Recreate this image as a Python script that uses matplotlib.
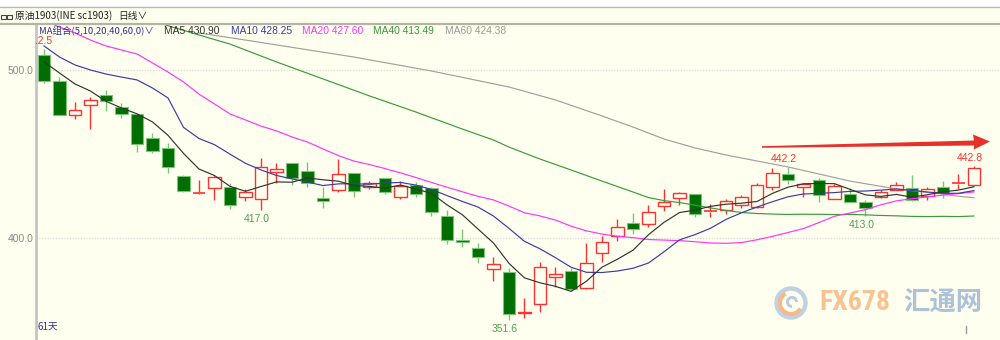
import matplotlib
matplotlib.use('Agg')
import matplotlib.pyplot as plt
import numpy as np
from matplotlib.patches import Rectangle, Polygon, Circle, Arc
from matplotlib.transforms import IdentityTransform

# ---------------- data ----------------
opens = [508.9, 493.5, 473.1, 479.0, 485.1, 477.8, 474.0, 459.4, 453.8, 437.2,
         427.1, 429.7, 430.7, 424.7, 423.2, 439.6, 444.6, 440.0, 423.8, 428.7,
         438.6, 430.7, 435.7, 424.4, 431.7, 429.7, 413.4, 399.0, 394.4, 381.8,
         380.2, 355.4, 360.9, 377.2, 380.6, 370.3, 391.1, 401.4, 409.3, 408.5,
         419.2, 423.8, 426.3, 415.8, 416.8, 419.8, 418.8, 430.7, 438.2, 430.7,
         434.6, 423.4, 426.1, 421.7, 424.7, 428.7, 429.7, 425.1, 430.7, 432.4,
         431.7]
highs = [512.5, 495.7, 481.0, 483.8, 488.1, 480.2, 474.5, 462.4, 456.8, 437.5,
         434.6, 437.0, 432.7, 429.1, 447.5, 444.6, 445.0, 445.2, 430.7, 447.1,
         438.8, 434.2, 436.0, 434.2, 433.6, 430.7, 416.8, 405.3, 397.4, 389.1,
         382.2, 364.4, 385.7, 382.8, 382.2, 397.4, 401.4, 411.3, 414.9, 419.8,
         429.1, 427.3, 426.5, 420.2, 423.2, 425.7, 433.0, 441.6, 442.2, 432.7,
         435.7, 432.1, 430.1, 422.8, 428.7, 433.6, 437.6, 430.7, 434.2, 438.2,
         442.8]
lows = [492.5, 473.0, 470.7, 464.8, 475.8, 471.3, 451.1, 450.5, 439.0, 427.8,
        426.3, 422.8, 417.5, 422.0, 417.0, 433.0, 431.7, 430.7, 418.2, 427.7,
        424.7, 429.3, 426.3, 423.2, 424.4, 413.4, 396.6, 395.0, 385.5, 374.8,
        351.6, 352.5, 356.4, 371.2, 368.7, 369.9, 385.7, 398.4, 402.6, 406.9,
        416.4, 419.8, 412.8, 412.8, 414.3, 417.8, 417.8, 428.7, 432.1, 424.7,
        421.4, 423.2, 421.5, 413.0, 423.8, 428.5, 422.3, 422.8, 423.8, 429.1,
        431.5]
closes = [493.6, 473.3, 476.2, 482.2, 481.6, 473.9, 455.9, 452.1, 442.4, 428.1,
          427.3, 436.6, 420.0, 427.7, 442.2, 441.0, 435.7, 432.7, 422.2, 438.0,
          428.3, 433.0, 427.7, 431.1, 426.3, 415.4, 399.0, 397.8, 389.1, 384.6,
          355.0, 356.0, 383.1, 378.6, 369.7, 385.1, 397.6, 406.9, 405.3, 415.8,
          421.7, 426.7, 414.4, 416.2, 422.3, 424.7, 431.7, 438.6, 434.6, 432.3,
          425.7, 431.1, 421.7, 418.2, 427.7, 431.7, 422.8, 429.1, 426.7, 432.9,
          441.6]

ma5_head = [504.9, 498.2, 491.7, 487.5]
ma10_head = [514.3, 507.7, 503.0, 500.0, 497.6, 495.8, 494.1, 489.3, 483.4]
ma20_head_idx = [0, 1, 2, 3, 4, 5, 6, 7, 8, 9, 10, 11, 12, 13, 14, 15, 16, 17, 18]
ma20_head = [529.7, 525.5, 522.0, 517.8, 514.3, 511.9, 509.5, 504.2, 498.8, 492.9,
             485.7, 479.8, 473.9, 470.3, 466.7, 463.8, 460.2, 457.2, 453.1]
ma40_head_idx = [7, 10, 12, 15, 18, 21, 24, 27, 29, 30, 32, 34, 36, 38]
ma40_head = [529.1, 520.8, 515.4, 504.8, 494.7, 484.6, 475.0, 464.9, 458.4, 454.2,
             447.1, 440.6, 434.0, 427.5]
ma60_head_idx = [10, 13, 15, 20, 25, 30, 33, 36, 38, 40, 42, 44, 48, 52, 55, 58]
ma60_head = [522.0, 517.8, 514.9, 507.7, 499.4, 489.9, 482.2, 472.7, 466.1, 459.0,
             453.7, 449.5, 442.4, 434.0, 429.3, 426.3]

yticks = [400, 500]
ytick_labels = ['400.0', '500.0']
legend_items = [('MA5 430.90', '#333333', 164), ('MA10 428.25', '#3a3aa8', 231),
                ('MA20 427.60', '#ff33ff', 302), ('MA40 413.49', '#3a9a3a', 373),
                ('MA60 424.38', '#9a9a9a', 445)]
high_labels = [(0, '512.5'), (48, '442.2'), (60, '442.8')]
low_labels = [(14, '417.0'), (30, '351.6'), (53, '413.0')]

# ---------------- style ----------------
BG = '#fffff0'
UP = '#ff3030'
DOWN_FACE = '#006e00'
DOWN_EDGE = '#7cc47c'
FONT = ['Liberation Sans', 'DejaVu Sans']
CJK = ['Noto Sans CJK SC', 'DejaVu Sans']

W, H = 1000, 340
fig = plt.figure(figsize=(W / 100, H / 100), dpi=100, facecolor=BG)
ax = fig.add_axes([36 / W, 0, (W - 36) / W, (H - 24) / H])
ax.set_facecolor(BG)
ax.set_xlim(-0.516, 61.68)
ax.set_ylim(339.57, 527.33)

for s in ['top', 'right', 'bottom']:
    ax.spines[s].set_visible(False)
ax.spines['left'].set_color('#c4c4c4')
ax.spines['left'].set_linewidth(2)
ax.set_xticks([])
ax.set_yticks(yticks)
ax.set_yticklabels(ytick_labels, fontsize=7.5, color='#8a8a8a', family=FONT)
ax.tick_params(axis='y', length=0, pad=2)
ax.grid(axis='y', color='#d4d4d4', linestyle=(0, (1, 1.5)), linewidth=0.8)

n = len(closes)
xs = np.arange(n)
bw = 0.82
for i in range(n):
    o, h, l, c = opens[i], highs[i], lows[i], closes[i]
    up = c >= o
    top, bot = max(o, c), min(o, c)
    if up:
        ax.vlines(i, l, bot, color=UP, lw=1, zorder=2)
        ax.vlines(i, top, h, color=UP, lw=1, zorder=2)
        if top - bot < 0.6:
            ax.hlines((top + bot) / 2, i - bw / 2, i + bw / 2, color=UP, lw=1.2, zorder=3)
        else:
            ax.add_patch(Rectangle((i - bw / 2, bot), bw, top - bot, facecolor=BG,
                                   edgecolor=UP, lw=1, zorder=3))
    else:
        ax.vlines(i, l, h, color=DOWN_EDGE, lw=1, zorder=2)
        hh = max(top - bot, 0.8)
        ax.add_patch(Rectangle((i - bw / 2, top - hh), bw, hh, facecolor=DOWN_FACE,
                               edgecolor=DOWN_EDGE, lw=0.8, zorder=3))


def rolling(vals, w):
    return [float(np.mean(vals[k - w + 1:k + 1])) for k in range(w - 1, len(vals))]


ma5 = ma5_head + rolling(closes, 5)
ma10 = ma10_head + rolling(closes, 10)
ma20_x = ma20_head_idx + list(range(19, n))
ma20_y = ma20_head + rolling(closes, 20)
ma40_x = ma40_head_idx + list(range(39, n))
ma40_y = ma40_head + rolling(closes, 40)
ma60_x = ma60_head_idx + list(range(59, n))
ma60_y = ma60_head + rolling(closes, 60)

lw = 0.85
ax.plot(ma60_x, ma60_y, color='#a0a0a0', lw=lw, zorder=4)
ax.plot(ma40_x, ma40_y, color='#3a9a3a', lw=lw, zorder=4)
ax.plot(ma20_x, ma20_y, color='#ff33ff', lw=lw, zorder=4)
ax.plot(xs, ma10, color='#3a3aa8', lw=lw, zorder=5)
ax.plot(xs, ma5, color='#333333', lw=lw, zorder=6)

for i, t in high_labels:
    ax.annotate(t, xy=(i, highs[i]), xytext=(-3, 6), textcoords='offset points',
                ha='center', va='center', fontsize=7.5, color='#ff3030',
                family=FONT, zorder=7, annotation_clip=False, clip_on=True)
for i, t in low_labels:
    ax.annotate(t, xy=(i, lows[i]), xytext=(-3, -6.5), textcoords='offset points',
                ha='center', va='center', fontsize=7.5, color='#4f9f4f',
                family=FONT, zorder=7, annotation_clip=False)

# ---------------- header / legend ----------------
def fx(x):
    return x / W


def fy(y):
    return 1 - y / H


fig.add_artist(Rectangle((fx(0), fy(7)), 1, 7 / H, facecolor='#ffffff', edgecolor='none', zorder=0))
fig.add_artist(plt.Line2D([0, 1], [fy(7), fy(7)], color='#b8b8b8', lw=1))
fig.add_artist(plt.Line2D([0, 1], [fy(24), fy(24)], color='#b4b4a4', lw=1.6))
# small link icon
for x0 in (1, 7):
    fig.add_artist(Rectangle((fx(x0), fy(18.5)), 5 / W, 4 / H, facecolor='none',
                             edgecolor='#444444', lw=0.8))
fig.text(fx(15), fy(16), '原油1903(INE sc1903)', fontsize=7, color='#222222',
         family=CJK, va='center', ha='left')
fig.text(fx(118), fy(16), '日线∨', fontsize=7, color='#222222', family=CJK,
         va='center', ha='left')
fig.text(fx(39), fy(31), 'MA组合(5,10,20,40,60,0)∨', fontsize=6.8, color='#2e2e9e',
         family=CJK, va='center', ha='left')
for t, col, x0 in legend_items:
    fig.text(fx(x0), fy(31), t, fontsize=7.4, color=col, family=FONT, va='center', ha='left')

fig.text(fx(37), fy(327), '61天', fontsize=7, color='#2e2e9e', family=CJK,
         va='center', ha='left')
fig.add_artist(plt.Line2D([fx(966), fx(966)], [fy(326), fy(333)], color='#9a9a9a', lw=1))

# ---------------- red arrow ----------------
ID = IdentityTransform()
arrow = Polygon([(762, H - 146.2), (974, H - 140.5), (973, H - 134.5), (990, H - 141.5),
                 (974, H - 149.5), (974, H - 145.5), (762, H - 147.8)],
                closed=True, facecolor='#e8302a', edgecolor='none', transform=ID)
fig.add_artist(arrow)

# ---------------- watermark ----------------
cx, cy = 791, H - 303
fig.add_artist(Circle((cx, cy), 14.5, facecolor='none', edgecolor='#b9cde0', lw=3.2,
                      transform=ID, alpha=0.9))
fig.add_artist(Arc((cx, cy), 22, 22, theta1=120, theta2=330, edgecolor='#f6b98f', lw=3,
                   transform=ID))
fig.add_artist(Arc((cx + 1, cy + 1), 9, 9, theta1=0, theta2=270, edgecolor='#b9cde0', lw=2.2,
                   transform=ID))
fig.text(fx(819), fy(303), 'FX678', fontsize=20, color='#f8c08e', family=['Roboto Condensed', 'Roboto', 'DejaVu Sans'],
         fontweight='bold', va='center', ha='left', alpha=0.95)
fig.text(fx(903), fy(303), '汇通网', fontsize=19, color='#adc1d8', family=CJK,
         fontweight='bold', va='center', ha='left')

fig.savefig('out.png', dpi=100, facecolor=BG)
